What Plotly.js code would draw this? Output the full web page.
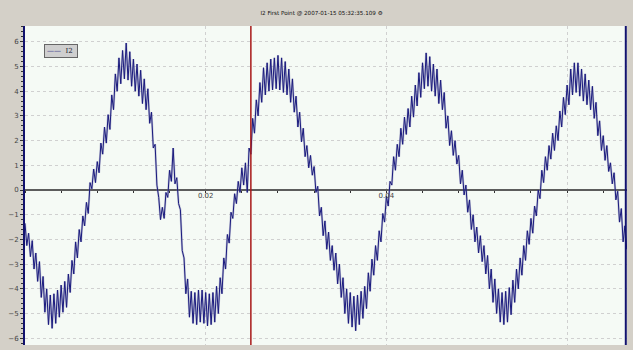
<!DOCTYPE html>
<html>
<head>
<meta charset="utf-8">
<script src="https://cdn.plot.ly/plotly-3.0.1.min.js"></script>
<style>html,body{margin:0;padding:0;background:#d4d0c8;}#chart{width:633px;height:350px;}</style>
</head>
<body>
<div id="chart"></div>
<script>
// Sampled current I2 (A), first sample at t = 0, step T_STEP seconds
const T_START = 0;
const T_STEP = 0.0002;
const I2 = [
-1.35,-2.25,-1.75,-2.7,-2.05,-3.2,-2.55,-3.7,-2.9,-4.35,
-3.5,-4.95,-4.0,-5.45,-4.25,-5.6,-4.2,-5.4,-4.05,-5.15,
-3.85,-4.95,-3.7,-4.75,-3.4,-4.15,-2.85,-3.4,-2.1,-2.75,
-1.6,-2.1,-1.05,-1.45,-0.5,-0.95,0.3,0.05,0.85,0.3,
1.15,0.7,1.9,1.45,2.55,1.9,3.05,2.45,3.85,3.25,
4.7,4.0,5.35,4.3,5.65,4.5,5.95,4.45,5.6,4.2,
5.3,4.0,5.1,3.8,4.85,3.5,4.5,3.25,4.1,2.7,
3.15,1.7,1.85,0.2,-0.3,-1.2,-0.7,-1.15,-0.1,-0.3,
0.8,0.35,1.7,0.25,0.5,-0.55,-0.8,-2.45,-2.75,-4.2,
-3.6,-5.15,-4.1,-5.4,-4.15,-5.45,-4.05,-5.35,-4.05,-5.4,
-4.15,-5.5,-4.2,-5.45,-4.15,-5.35,-3.9,-5.0,-3.55,-4.2,
-2.75,-3.2,-1.8,-2.15,-0.9,-1.15,-0.15,-0.55,0.35,-0.1,
0.9,0.2,1.1,-0.1,1.7,1.45,2.9,2.3,3.65,3.0,
4.35,3.55,4.95,3.85,5.15,4.0,5.3,4.05,5.35,4.1,
5.45,4.05,5.35,3.95,5.2,3.85,4.9,3.55,4.5,3.15,
3.8,2.55,3.15,1.95,2.5,1.35,1.8,0.9,1.4,0.6,
0.95,-0.1,0.15,-1.05,-0.7,-1.85,-1.25,-2.4,-1.7,-2.85,
-2.25,-3.25,-2.55,-3.8,-3.0,-4.35,-3.55,-5.0,-4.0,-5.4,
-4.15,-5.55,-4.3,-5.7,-4.25,-5.45,-4.1,-5.2,-3.9,-4.8,
-3.35,-4.1,-2.8,-3.45,-2.25,-2.85,-1.65,-2.1,-0.95,-1.3,
-0.25,-0.65,0.35,0.2,1.35,0.8,1.85,1.35,2.5,1.85,
2.95,2.25,3.3,2.55,3.8,2.95,4.25,3.4,4.75,3.75,
5.15,4.1,5.55,4.2,5.4,4.0,5.1,3.8,4.9,3.5,
4.45,3.25,3.95,2.5,3.0,1.8,2.4,1.4,2.0,1.05,
1.4,0.25,0.8,-0.2,0.2,-0.9,-0.4,-1.6,-1.0,-2.1,
-1.5,-2.55,-1.85,-2.9,-2.25,-3.4,-2.65,-4.0,-3.2,-4.55,
-3.6,-5.0,-4.0,-5.35,-4.15,-5.45,-4.1,-5.35,-3.95,-5.05,
-3.65,-4.55,-3.2,-4.0,-2.75,-3.45,-2.25,-2.85,-1.65,-2.2,
-1.15,-1.75,-0.65,-1.05,0.0,-0.35,0.8,0.3,1.35,0.8,
1.8,1.25,2.3,1.6,2.6,2.0,3.2,2.55,3.75,3.05,
4.25,3.45,4.9,3.85,5.15,3.95,5.15,3.8,4.9,3.6,
4.7,3.45,4.45,3.25,4.2,2.9,3.55,2.2,2.8,1.6,
2.2,1.2,1.8,0.75,1.1,0.25,0.7,-0.4,-0.05,-1.3,
-0.75,-2.1,-1.45,-2.4
];
const CURSOR_T = 0.025;
const X_TICKS = [0.02, 0.04, 0.06];
const X_TICK_TEXT = ['0.02', '0.04', ''];
const Y_TICKS = [-6,-5,-4,-3,-2,-1,0,1,2,3,4,5,6];
const TITLE = 'I2 First Point @ 2007-01-15 05:32:35.109 \u2699';
const SERIES_NAME = 'I2';

const X_RANGE = [0, 0.06663];
const Y_RANGE = [-6.275, 6.64];
const zeroPos = -Y_RANGE[0] / (Y_RANGE[1] - Y_RANGE[0]);

const halo = {
  type: 'scatter', mode: 'lines', name: SERIES_NAME,
  x0: T_START, dx: T_STEP, y: I2,
  line: {color: 'rgba(120,120,170,0.4)', width: 2.2},
  showlegend: false, hoverinfo: 'skip'
};
const trace = {
  type: 'scatter', mode: 'lines', name: SERIES_NAME,
  x0: T_START, dx: T_STEP, y: I2,
  line: {color: '#1a1a7e', width: 1},
  showlegend: false
};

const layout = {
  width: 633, height: 350,
  margin: {l: 25, r: 6, t: 26, b: 5},
  paper_bgcolor: '#d4d0c8',
  plot_bgcolor: '#f5faf5',
  title: {text: TITLE, font: {family: 'DejaVu Sans', size: 5.6, color: '#111'}, x: 0.508, xanchor: 'center', y: 0.963, yanchor: 'middle'},
  xaxis: {
    range: X_RANGE, anchor: 'free', position: zeroPos,
    tickvals: X_TICKS, ticktext: X_TICK_TEXT,
    showgrid: true, gridcolor: '#d0d0d0', griddash: 'dot', gridwidth: 1,
    zeroline: false, showline: false,
    ticks: '', ticklen: 0,
    tickfont: {family: 'DejaVu Sans', size: 7, color: '#444'},
    minor: {dtick: 0.004, ticks: 'outside', ticklen: 2, tickcolor: '#333', showgrid: false}
  },
  yaxis: {
    range: Y_RANGE, tickvals: Y_TICKS,
    showgrid: true, gridcolor: '#d0d0d0', griddash: 'dot', gridwidth: 1,
    zeroline: true, zerolinecolor: '#5c5c5c', zerolinewidth: 2,
    showline: true, linecolor: '#12126e', linewidth: 2,
    ticks: 'outside', ticklen: 3, tickcolor: '#333',
    tickfont: {family: 'DejaVu Sans', size: 7, color: '#444'},
    minor: {dtick: 0.2, ticks: 'outside', ticklen: 2, tickcolor: '#333', showgrid: false}
  },
  shapes: [
    {type: 'line', xref: 'x', yref: 'paper', x0: CURSOR_T, x1: CURSOR_T, y0: 0, y1: 1, line: {color: '#a81818', width: 1.5}},
    {type: 'line', xref: 'paper', yref: 'paper', x0: 0.998, x1: 0.998, y0: 0, y1: 1, line: {color: '#12126e', width: 2}}
  ],
  annotations: [
    {xref: 'paper', yref: 'paper', x: 0.06, y: 0.921, xanchor: 'center', yanchor: 'middle', showarrow: false,
     text: '<span style="color:#1a1a7e">\u2014\u2014</span>  ' + SERIES_NAME + ' ',
     font: {family: 'DejaVu Serif', size: 7, color: '#223'},
     bgcolor: '#cfcfcf', bordercolor: '#666', borderwidth: 1, borderpad: 2}
  ]
};

Plotly.newPlot('chart', [halo, trace], layout, {displayModeBar: false, staticPlot: true});
</script>
</body>
</html>
